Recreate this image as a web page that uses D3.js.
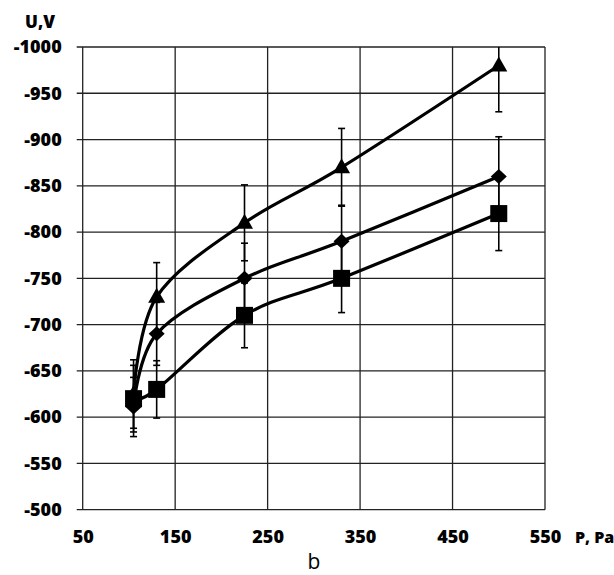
<!DOCTYPE html>
<html>
<head>
<meta charset="utf-8">
<script src="https://cdn.jsdelivr.net/npm/d3@7"></script>
<style>
  body { margin: 0; background: #fff; }
  #viz { width: 614px; height: 575px; }
  text { font-family: "Open Sans", sans-serif; }
</style>
</head>
<body>
<div id="viz"></div>
<script>
// pressure, Pa
const pressure = [105, 130, 225, 330, 500];

// voltage, V (three series)
const triangleU = [-625, -730, -810, -870, -980];
const diamondU = [-611, -690, -750, -790, -860];
const squareU = [-620, -630, -710, -750, -820];

// error bar half widths, V
const triangleErr = [37, 37, 41, 42, 50];
const diamondErr = [32, 34, 38, 39, 43];
const squareErr = [36, 31, 35, 37, 40];

const xTicks = [50, 150, 250, 350, 450, 550];
const yTicks = [-1000, -950, -900, -850, -800, -750, -700, -650, -600, -550, -500];

const series = [
  { name: "triangle", values: triangleU, err: triangleErr },
  { name: "diamond", values: diamondU, err: diamondErr },
  { name: "square", values: squareU, err: squareErr },
];

const svg = d3.select("#viz").append("svg")
  .attr("width", 614)
  .attr("height", 575);

const plotL = 82.7, plotR = 545, plotT = 47, plotB = 509.7;

const x = d3.scaleLinear().domain([50, 550]).range([plotL, plotR]);
const y = d3.scaleLinear().domain([-500, -1000]).range([plotB, plotT]);

// grid
svg.append("g")
  .selectAll("line")
  .data(yTicks)
  .join("line")
  .attr("x1", plotL - 6).attr("x2", plotR)
  .attr("y1", d => y(d)).attr("y2", d => y(d))
  .attr("stroke", "#222").attr("stroke-width", 1.3);

svg.append("g")
  .selectAll("line")
  .data(xTicks)
  .join("line")
  .attr("x1", d => x(d)).attr("x2", d => x(d))
  .attr("y1", plotT).attr("y2", plotB)
  .attr("stroke", "#222").attr("stroke-width", 1.3);

// y axis labels (plain hyphen minus, as in the original)
const yAxis = d3.axisLeft(y).tickValues(yTicks).tickSize(0).tickPadding(21)
  .tickFormat(d => String(d));
svg.append("g")
  .attr("transform", `translate(${plotL},0)`)
  .call(yAxis)
  .call(g => g.select(".domain").remove())
  .call(g => g.selectAll("text")
    .attr("font-family", "Open Sans")
    .attr("font-weight", 800)
    .attr("font-size", 18)
    .attr("fill", "#000"));

// x axis labels
const xAxis = d3.axisBottom(x).tickValues(xTicks).tickSize(0).tickPadding(21)
  .tickFormat(d => String(d));
svg.append("g")
  .attr("transform", `translate(0,${plotB})`)
  .call(xAxis)
  .call(g => g.select(".domain").remove())
  .call(g => g.selectAll("text")
    .attr("font-family", "Open Sans")
    .attr("font-weight", 800)
    .attr("font-size", 18)
    .attr("fill", "#000"));

// axis titles
svg.append("text")
  .attr("x", 40).attr("y", 28)
  .attr("text-anchor", "middle")
  .attr("font-weight", 800).attr("font-size", 17)
  .text("U,V");

svg.append("text")
  .attr("x", 575).attr("y", 543)
  .attr("font-weight", 800).attr("font-size", 16)
  .text("P, Pa");

svg.append("text")
  .attr("x", 314).attr("y", 569)
  .attr("text-anchor", "middle")
  .attr("font-size", 21)
  .text("b");

// lines
const line = d3.line()
  .x((d, i) => x(pressure[i]))
  .y(d => y(d))
  .curve(d3.curveCardinal);

const plot = svg.append("g");

series.forEach(s => {
  plot.append("path")
    .datum(s.values)
    .attr("d", line)
    .attr("fill", "none")
    .attr("stroke", "#000")
    .attr("stroke-width", 3.2);
});

// error bars
series.forEach(s => {
  const g = plot.append("g");
  s.values.forEach((v, i) => {
    const px = x(pressure[i]);
    const y1 = Math.max(y(v - s.err[i]), plotT);
    const y2 = y(v + s.err[i]);
    g.append("line")
      .attr("x1", px).attr("x2", px)
      .attr("y1", y1).attr("y2", y2)
      .attr("stroke", "#000").attr("stroke-width", 1.6);
    [v - s.err[i], v + s.err[i]].forEach(e => {
      if (y(e) < plotT) return;
      g.append("line")
        .attr("x1", px - 3.5).attr("x2", px + 3.5)
        .attr("y1", y(e)).attr("y2", y(e))
        .attr("stroke", "#000").attr("stroke-width", 1.6);
    });
  });
});

// markers
series.forEach(s => {
  const g = plot.append("g");
  s.values.forEach((v, i) => {
    const px = x(pressure[i]);
    const py = y(v);
    if (s.name === "triangle") {
      g.append("path")
        .attr("d", "M0,-9L8.5,6L-8.5,6Z")
        .attr("transform", `translate(${px},${py})`)
        .attr("fill", "#000");
    } else if (s.name === "diamond") {
      g.append("path")
        .attr("d", "M0,-7.5L8,0L0,7.5L-8,0Z")
        .attr("transform", `translate(${px},${py})`)
        .attr("fill", "#000");
    } else {
      g.append("rect")
        .attr("x", px - 8.5).attr("y", py - 8.5)
        .attr("width", 17).attr("height", 17)
        .attr("fill", "#000");
    }
  });
});
</script>
</body>
</html>
